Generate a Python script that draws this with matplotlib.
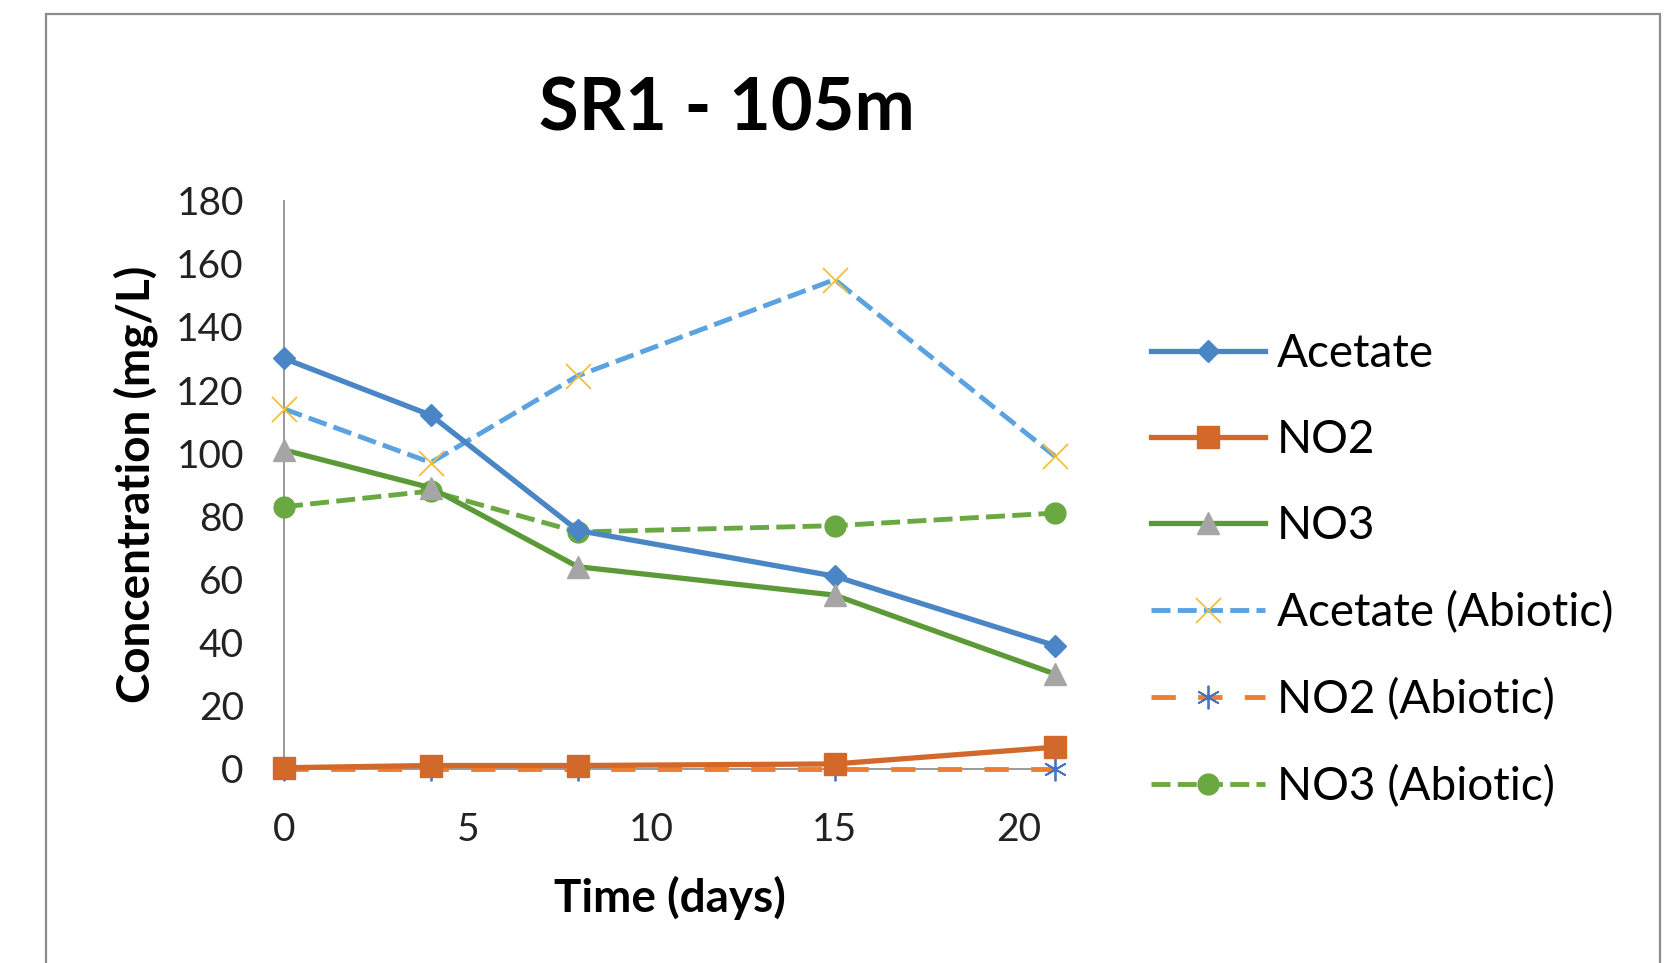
import matplotlib
matplotlib.use("Agg")
import matplotlib.pyplot as plt
from matplotlib.patches import Rectangle

plt.rcParams["font.family"] = ["Lato", "DejaVu Sans"]

# days sampled
days = [0, 4, 8, 15, 21]

acetate = [130, 112, 75.5, 61, 39]
no2 = [0.3, 1.0, 1.0, 1.5, 6.8]
no3 = [101, 89, 64, 55, 30]
acetate_abiotic = [114, 97, 124.5, 155, 99]
no2_abiotic = [0, 0, 0, 0, 0]
no3_abiotic = [83, 88, 75, 77, 81]

x_ticks = [0, 5, 10, 15, 20]
y_ticks = list(range(0, 181, 20))

fig = plt.figure(figsize=(16.74, 9.63), dpi=100)
ax = fig.add_axes([0.1697, 0.2018, 0.4605, 0.5898])

# outer chart frame, runs off the bottom edge like the screenshot
fig.patches.append(
    Rectangle((0.0275, -0.02), 0.9641, 1.0055, transform=fig.transFigure,
              fill=False, edgecolor="#8c8c8c", linewidth=1.6)
)

ax.plot(days, acetate, color="#4a86c6", linewidth=3.8, marker="D",
        markersize=11.5, markerfacecolor="#4a86c6", markeredgecolor="#4a86c6",
        label="Acetate", zorder=4)
ax.plot(days, no2, color="#d2692a", linewidth=3.8, marker="s",
        markersize=15.5, markerfacecolor="#d2692a", markeredgecolor="#d2692a",
        label="NO2", zorder=4)
ax.plot(days, no3, color="#5b9a37", linewidth=3.8, marker="^",
        markersize=16.5, markerfacecolor="#a5a5a5", markeredgecolor="#a5a5a5",
        label="NO3", zorder=4)
ax.plot(days, acetate_abiotic, color="#5ba3e0", linewidth=3.5,
        linestyle=(0, (3.9, 1.5)), marker="x", markersize=18,
        markeredgewidth=1.3, markeredgecolor="#f2c037",
        label="Acetate (Abiotic)", zorder=3)
ax.plot(days, no2_abiotic, color="#ed7d31", linewidth=3.5,
        linestyle=(0, (5, 4.6)), marker=(6, 2, 0), markersize=17,
        markeredgewidth=1.3, markeredgecolor="#4472c4",
        label="NO2 (Abiotic)", zorder=3)
ax.plot(days, no3_abiotic, color="#6aa842", linewidth=3.5,
        linestyle=(0, (3.9, 1.5)), marker="o", markersize=15,
        markerfacecolor="#6aa842", markeredgecolor="#6aa842",
        label="NO3 (Abiotic)", zorder=3)

ax.set_xlim(0, 21)
ax.set_ylim(0, 180)
ax.set_xticks(x_ticks)
ax.set_yticks(y_ticks)
ax.tick_params(axis="both", length=0, labelsize=28, colors="#222222")
ax.tick_params(axis="x", pad=31)
ax.tick_params(axis="y", pad=29)

for side in ["top", "right"]:
    ax.spines[side].set_visible(False)
for side in ["left", "bottom"]:
    ax.spines[side].set_color("#9a9a9a")
    ax.spines[side].set_linewidth(1.4)
    ax.spines[side].set_zorder(2)
for line in ax.lines:
    line.set_clip_on(False)

ax.set_xlabel("Time (days)", fontsize=33, fontweight="bold", labelpad=20)
ax.set_ylabel("Concentration (mg/L)", fontsize=33, fontweight="bold", labelpad=13)

fig.text(0.434, 0.886, "SR1 - 105m", fontsize=52, fontweight="bold",
         ha="center", va="center")

ax.legend(loc="upper left", bbox_to_anchor=(1151 / 1674, 1 - 333 / 963),
          bbox_transform=fig.transFigure, frameon=False, fontsize=33,
          handlelength=2.49, handletextpad=0.25, labelspacing=0.96,
          borderpad=0, borderaxespad=0)

fig.savefig("out.png", dpi=100, facecolor="white")
